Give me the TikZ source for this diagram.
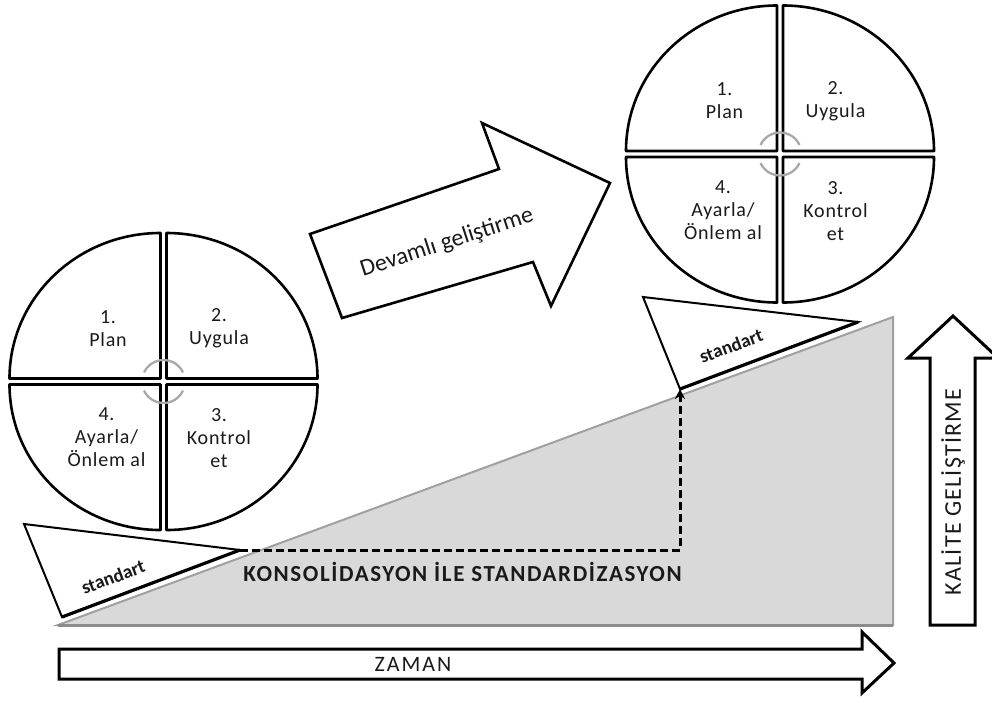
\documentclass[tikz,border=0pt]{standalone}
\usepackage{fontspec}
\setmainfont{Carlito}
\usetikzlibrary{arrows.meta}

\definecolor{slopefill}{HTML}{D9D9D9}
\definecolor{slopeedge}{HTML}{A0A0A0}
\definecolor{slopebase}{HTML}{8C8C8C}
\definecolor{cyclegray}{HTML}{A8A8A8}
\definecolor{inkdark}{HTML}{1A1A1A}

\tikzset{
  quarter/.style={draw=black, line width=2.6pt, fill=white, line join=round},
  cyclearc/.style={draw=cyclegray, line width=2.3pt},
  steplabel/.style={font=\fontsize{20}{23}\selectfont\addfontfeatures{LetterSpace=4},
    align=center, text=inkdark, inner sep=0pt},
  bigarrow/.style={draw=black, line width=3pt, fill=white, line join=miter},
  wedgeshape/.style={draw=black, line width=2pt, fill=white, line join=miter},
  wedgebase/.style={draw=black, line width=3.2pt},
  standlabel/.style={font=\bfseries\fontsize{19}{21}\selectfont,
    text=inkdark, inner sep=0pt},
  capsbold/.style={font=\bfseries\fontsize{23}{25}\selectfont\addfontfeatures{LetterSpace=7},
    text=inkdark, inner sep=0pt},
  capsreg/.style={font=\fontsize{24}{26}\selectfont\addfontfeatures{LetterSpace=5},
    text=inkdark, inner sep=0pt},
  timelabel/.style={font=\fontsize{22}{24}\selectfont\addfontfeatures{LetterSpace=9},
    text=inkdark, inner sep=0pt},
  arrowlabel/.style={font=\fontsize{24}{26}\selectfont,
    text=inkdark, inner sep=0pt},
  dashlink/.style={draw=black, line width=3pt, dash pattern=on 8pt off 4pt,
    -{Stealth[length=10pt,width=10pt]}},
}

% One PDCA wheel: four quarter segments, the cycle arcs and the step labels
\newcommand{\pdcawheel}[1]{%
  \draw[quarter] (-3,-3) -- (-3,-148.5)
    arc[start angle=270, end angle=180, x radius=151, y radius=145.5] -- cycle;
  \draw[quarter] (3,-3) -- (3,-148.5)
    arc[start angle=270, end angle=360, x radius=151, y radius=145.5] -- cycle;
  \draw[quarter] (3,3) -- (154,3)
    arc[start angle=0, end angle=90, x radius=151, y radius=145.5] -- cycle;
  \draw[quarter] (-3,3) -- (-3,148.5)
    arc[start angle=90, end angle=180, x radius=151, y radius=145.5] -- cycle;
  \draw[cyclearc] (205:21.5) arc[start angle=205, end angle=335, radius=21.5];
  \draw[cyclearc] (25:21.5) arc[start angle=25, end angle=155, radius=21.5];
  \node[steplabel] (#1-plan) at (-55.5,-53) {1.\\Plan};
  \node[steplabel] (#1-do) at (55.5,-53) {2.\\Uygula};
  \node[steplabel] (#1-check) at (55.5,57) {3.\\Kontrol\\et};
  \node[steplabel] (#1-act) at (-57,56) {4.\\Ayarla/\\Önlem al};
}

\begin{document}
\begin{tikzpicture}[x=1pt, y=-1pt]
\useasboundingbox (0,0) rectangle (992,702);
\fill[white] (0,0) rectangle (992,702);

% rising quality level
\coordinate (slopeStart) at (58,625);
\coordinate (slopeTop) at (893,317);
\coordinate (slopeFoot) at (893,625);
\filldraw[fill=slopefill, draw=slopeedge, line width=2pt, line join=miter]
  (slopeStart) -- (slopeTop) -- (slopeFoot) -- cycle;
\draw[draw=slopebase, line width=3pt] (slopeStart) -- (slopeFoot);

% standard wedges
\coordinate (wLtop) at (24,524);
\coordinate (wLtip) at (240,550);
\coordinate (wLfoot) at (62,617);
\draw[wedgeshape] (wLtop) -- (wLtip) -- (wLfoot) -- cycle;
\draw[wedgebase] (wLfoot) -- (wLtip);
\node[standlabel, rotate=20.5] (stdL) at (113,577) {standart};

\coordinate (wRtop) at (643,297);
\coordinate (wRtip) at (858,322);
\coordinate (wRfoot) at (680,389);
\draw[wedgeshape] (wRtop) -- (wRtip) -- (wRfoot) -- cycle;
\draw[wedgebase] (wRfoot) -- (wRtip);
\node[standlabel, rotate=20.5] (stdR) at (731,346) {standart};

% consolidation step
\draw[dashlink] (wLtip) -| (wRfoot);
\node[capsbold] (consol) at (462.5,572) {KONSOLİDASYON İLE STANDARDİZASYON};

% PDCA wheels
\begin{scope}[shift={(163.5,381.5)}]
  \pdcawheel{wheelA}
\end{scope}
\begin{scope}[shift={(780,154)}]
  \pdcawheel{wheelB}
\end{scope}

% continuous improvement arrow
\draw[bigarrow, line width=2.6pt] (310,234) -- (499,169) -- (482,123) -- (610,183)
  -- (551,306) -- (533,262) -- (342,318) -- cycle;
\node[arrowlabel, rotate=18] (devamli) at (447,243) {Devamlı geliştirme};

% time axis
\draw[bigarrow] (59,649) -- (862,649) -- (862,632) -- (894,663) -- (862,693)
  -- (862,679) -- (59,679) -- cycle;
\node[timelabel] (zaman) at (413,664) {ZAMAN};

% quality axis
\draw[bigarrow] (930,625) -- (930,358) -- (908,358) -- (953,316) -- (998,358)
  -- (975,358) -- (975,625) -- cycle;
\node[capsreg, rotate=90] (kalite) at (953,492) {KALİTE GELİŞTİRME};
\end{tikzpicture}
\end{document}
